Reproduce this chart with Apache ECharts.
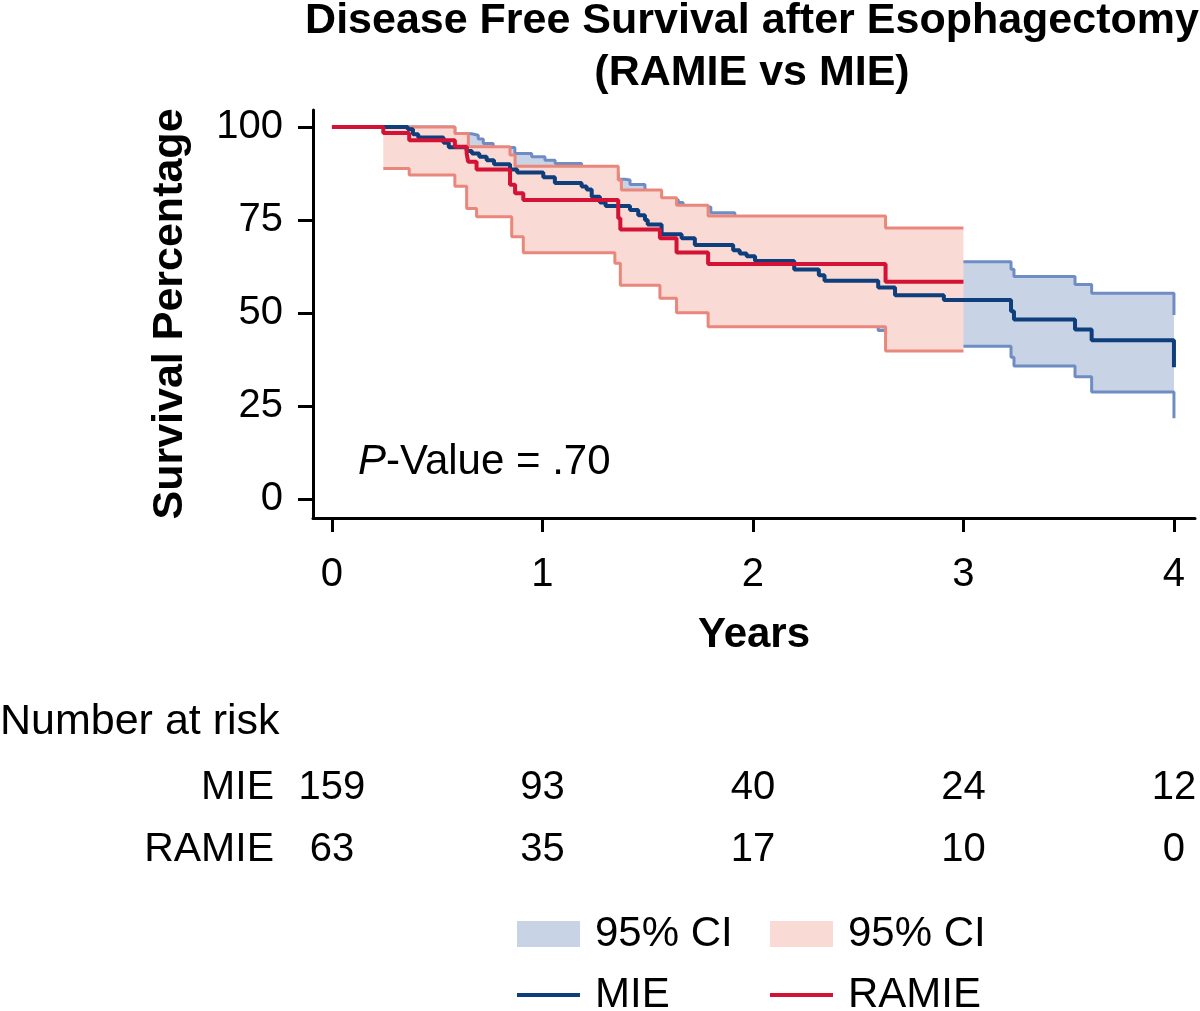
<!DOCTYPE html>
<html>
<head>
<meta charset="utf-8">
<script src="https://cdn.jsdelivr.net/npm/echarts@6/dist/echarts.min.js"></script>
<style>
  html, body { margin: 0; padding: 0; background: #fff; }
  #chart { width: 1200px; height: 1011px; }
</style>
</head>
<body>
<div id="chart"></div>
<script>
// KM curves: [year, survival %], value holds until next step
const mieSurv = [[0, 100], [0.36, 99.4], [0.385, 98.1], [0.41, 97.2], [0.53, 95.8], [0.555, 94.6], [0.64, 93.6], [0.665, 92.9], [0.70, 92.0], [0.735, 91.1], [0.77, 90.0], [0.846, 88.6], [0.88, 87.8], [1.004, 86.5], [1.059, 85.0], [1.186, 84.0], [1.21, 83.2], [1.234, 81.3], [1.273, 79.7], [1.30, 78.8], [1.416, 77.7], [1.455, 76.3], [1.487, 75.0], [1.50, 73.8], [1.566, 71.2], [1.661, 70.1], [1.724, 68.3], [1.906, 66.9], [1.937, 66.0], [1.97, 65.3], [2.01, 64.0], [2.196, 61.7], [2.313, 60.2], [2.34, 58.7], [2.595, 56.9], [2.675, 54.8], [2.907, 53.5], [3.226, 50.5], [3.24, 48.3], [3.53, 45.6], [3.609, 42.7], [4.0, 35.4]]
const mieUpper = [[0, 100], [0.584, 98.2], [0.663, 97.8], [0.695, 96.8], [0.719, 95.6], [0.766, 94.5], [0.869, 92.9], [0.949, 92.0], [1.012, 91.1], [1.06, 90.2], [1.186, 88.5], [1.25, 87.5], [1.36, 86.0], [1.392, 85.8], [1.416, 84.6], [1.487, 82.0], [1.566, 80.5], [1.645, 79.7], [1.668, 78.5], [1.80, 77.0], [1.914, 75.5], [2.01, 74.0], [2.196, 72.0], [2.313, 70.5], [2.595, 68.5], [2.675, 66.5], [2.907, 63.8], [3.226, 61.8], [3.24, 59.8], [3.53, 57.7], [3.609, 55.3], [4.0, 49.5]]
const mieLower = [[0, 100], [0.36, 98.2], [0.385, 96.2], [0.41, 95.0], [0.53, 93.2], [0.555, 91.8], [0.64, 90.6], [0.665, 89.8], [0.70, 88.6], [0.735, 87.5], [0.77, 86.2], [0.846, 84.6], [0.88, 83.6], [1.004, 82.0], [1.059, 80.2], [1.186, 79.0], [1.21, 78.0], [1.234, 75.8], [1.273, 74.0], [1.30, 72.9], [1.416, 71.6], [1.455, 70.0], [1.487, 68.6], [1.50, 67.2], [1.566, 64.3], [1.661, 63.0], [1.724, 61.0], [1.906, 59.3], [1.937, 58.3], [1.97, 57.5], [2.01, 56.0], [2.196, 53.4], [2.313, 51.7], [2.34, 50.0], [2.595, 45.3], [2.675, 43.5], [2.907, 41.1], [3.226, 38.1], [3.24, 35.8], [3.53, 32.9], [3.609, 28.8], [4.0, 21.7]]
const ramieSurv = [[0, 100], [0.244, 98.4], [0.367, 96.5], [0.584, 94.7], [0.64, 92.9], [0.647, 90.7], [0.687, 88.6], [0.846, 84.5], [0.87, 82.2], [0.909, 80.4], [1.36, 75.5], [1.37, 72.5], [1.558, 70.1], [1.637, 66.3], [1.787, 63.2], [2.63, 58.4], [3.0, 58.4]]
const ramieUpper = [[0.244, 100], [0.584, 98.3], [0.648, 94.7], [0.846, 92.5], [0.87, 89.5], [1.36, 85.8], [1.375, 83.1], [1.566, 81.0], [1.637, 79.0], [1.787, 76.1], [2.63, 72.9], [3.0, 72.9]]
const ramieLower = [[0.244, 88.9], [0.367, 87.1], [0.584, 84.1], [0.64, 78.1], [0.687, 75.9], [0.854, 70.5], [0.909, 66.2], [1.344, 63.4], [1.37, 57.5], [1.558, 54.0], [1.637, 50.1], [1.787, 46.3], [2.63, 39.8], [3.0, 39.8]]

const yearTicks = [0, 1, 2, 3, 4]
const percentTicks = [0, 25, 50, 75, 100]
const riskGroups = ['MIE', 'RAMIE']
const mieAtRisk = [159, 93, 40, 24, 12]
const ramieAtRisk = [63, 35, 17, 10, 0]

const FONT = 'Liberation Sans'
const blueLine = '#0f3e7c'
const redLine = '#d31236'
const blueCi = '#6f8dc3'
const redCi = '#e9877c'
const blueFill = '#c9d3e6'
const redFill = '#f9dad4'

// value of a step curve at time t
function stepAt (arr, t) {
  let v = null
  for (const p of arr) {
    if (p[0] <= t) v = p[1]
    else break
  }
  return v
}

// CI band as one step polygon, built from the axis coords
function bandSeries (upper, lower, name, color, z) {
  const times = Array.from(new Set(upper.map(p => p[0]).concat(lower.map(p => p[0])))).sort((a, b) => a - b)
  const segs = []
  times.forEach((t, i) => {
    const u = stepAt(upper, t)
    const l = stepAt(lower, t)
    if (u == null || l == null) return
    const t1 = i + 1 < times.length ? times[i + 1] : t
    segs.push([t, t1, u, l])
  })
  return {
    type: 'custom',
    name: name,
    xAxisIndex: 0,
    yAxisIndex: 0,
    z: z,
    silent: true,
    clip: true,
    itemStyle: { color: color },
    data: [[segs[0][0], segs[0][2]]],
    renderItem: function (params, api) {
      const pts = []
      segs.forEach(s => {
        pts.push(api.coord([s[0], s[2]]))
        pts.push(api.coord([s[1], s[2]]))
      })
      for (let i = segs.length - 1; i >= 0; i--) {
        const s = segs[i]
        pts.push(api.coord([s[1], s[3]]))
        pts.push(api.coord([s[0], s[3]]))
      }
      return { type: 'polygon', shape: { points: pts }, style: { fill: color } }
    }
  }
}

function stepLine (data, name, color, width, z) {
  return { type: 'line', name: name, data: data, step: 'end', symbol: 'none', lineStyle: { color: color, width: width }, itemStyle: { color: color }, z: z, silent: true }
}

function riskData (counts, row) {
  return counts.map((n, i) => [yearTicks[i], row, n])
}

function legendItem (name, color, left, top, h, label) {
  return {
    data: [{ name: name, icon: 'rect', itemStyle: { color: color } }],
    left: left,
    top: top,
    padding: 0,
    itemWidth: 63,
    itemHeight: h,
    selectedMode: false,
    formatter: () => label,
    textStyle: { fontSize: 42, fontFamily: FONT, color: '#000', padding: [0, 0, 0, 10] }
  }
}

const chart = echarts.init(document.getElementById('chart'))
chart.setOption({
  animation: false,
  backgroundColor: '#fff',
  textStyle: { fontFamily: FONT, color: '#000' },
  grid: [
    { left: 313, top: 110, width: 882, height: 408 },
    { left: 313, top: 757, width: 882, height: 124 }
  ],
  xAxis: [
    {
      type: 'value',
      gridIndex: 0,
      min: -0.09,
      max: 4.1,
      axisLine: { show: true, onZero: false, lineStyle: { color: '#000', width: 3 } },
      axisTick: { show: true, customValues: yearTicks, length: 14, lineStyle: { color: '#000', width: 3 } },
      axisLabel: { customValues: yearTicks, fontSize: 40, margin: 37, color: '#000' },
      splitLine: { show: false },
      name: 'Years',
      nameLocation: 'middle',
      nameGap: 96,
      nameTextStyle: { fontSize: 42, fontWeight: 'bold', color: '#000' }
    },
    { type: 'value', gridIndex: 1, min: -0.09, max: 4.1, show: false }
  ],
  yAxis: [
    {
      type: 'value',
      gridIndex: 0,
      min: -5.1,
      max: 104.6,
      axisLine: { show: true, onZero: false, lineStyle: { color: '#000', width: 3 } },
      axisTick: { show: true, customValues: percentTicks, length: 15, lineStyle: { color: '#000', width: 3 } },
      axisLabel: { customValues: percentTicks, fontSize: 40, margin: 30, color: '#000' },
      splitLine: { show: false },
      name: 'Survival Percentage',
      nameLocation: 'middle',
      nameGap: 121,
      nameTextStyle: { fontSize: 43, fontWeight: 'bold', color: '#000' }
    },
    {
      type: 'category',
      gridIndex: 1,
      inverse: true,
      data: riskGroups,
      axisLine: { show: false },
      axisTick: { show: false },
      axisLabel: { fontSize: 41, margin: 39, color: '#000' }
    }
  ],
  legend: [
    legendItem('MIE 95% CI', blueFill, 517, 913, 26, '95% CI'),
    legendItem('RAMIE 95% CI', redFill, 770, 913, 26, '95% CI'),
    legendItem('MIE', blueLine, 517, 974, 4, 'MIE'),
    legendItem('RAMIE', redLine, 770, 974, 4, 'RAMIE')
  ],
  graphic: [
    {
      type: 'text',
      x: 752,
      y: 47,
      style: { text: 'Disease Free Survival after Esophagectomy\n(RAMIE vs MIE)', fontFamily: FONT, fontSize: 43, fontWeight: 'bold', lineHeight: 52, align: 'center', verticalAlign: 'middle', fill: '#000' }
    },
    {
      type: 'text',
      x: 358,
      y: 462,
      style: {
        text: '{i|P}-Value = .70',
        fontFamily: FONT,
        fontSize: 42,
        align: 'left',
        verticalAlign: 'middle',
        fill: '#000',
        rich: { i: { fontStyle: 'italic', fontSize: 42, fontFamily: FONT } }
      }
    },
    {
      type: 'text',
      x: 0,
      y: 722,
      style: { text: 'Number at risk', fontFamily: FONT, fontSize: 43, align: 'left', verticalAlign: 'middle', fill: '#000' }
    }
  ],
  series: [
    bandSeries(mieUpper, mieLower, 'MIE 95% CI', blueFill, 1),
    stepLine(mieUpper, 'MIE upper', blueCi, 3, 2),
    stepLine(mieLower, 'MIE lower', blueCi, 3, 2),
    bandSeries(ramieUpper, ramieLower, 'RAMIE 95% CI', redFill, 3),
    stepLine(ramieUpper, 'RAMIE upper', redCi, 3, 4),
    stepLine(ramieLower, 'RAMIE lower', redCi, 3, 4),
    stepLine(mieSurv, 'MIE', blueLine, 4, 5),
    stepLine(ramieSurv, 'RAMIE', redLine, 4, 6),
    {
      type: 'scatter',
      xAxisIndex: 1,
      yAxisIndex: 1,
      symbolSize: 0,
      itemStyle: { color: '#000' },
      silent: true,
      data: riskData(mieAtRisk, 0).concat(riskData(ramieAtRisk, 1)),
      label: { show: true, position: 'inside', formatter: p => p.value[2], fontSize: 40, color: '#000', opacity: 1 }
    }
  ]
})
</script>
</body>
</html>
